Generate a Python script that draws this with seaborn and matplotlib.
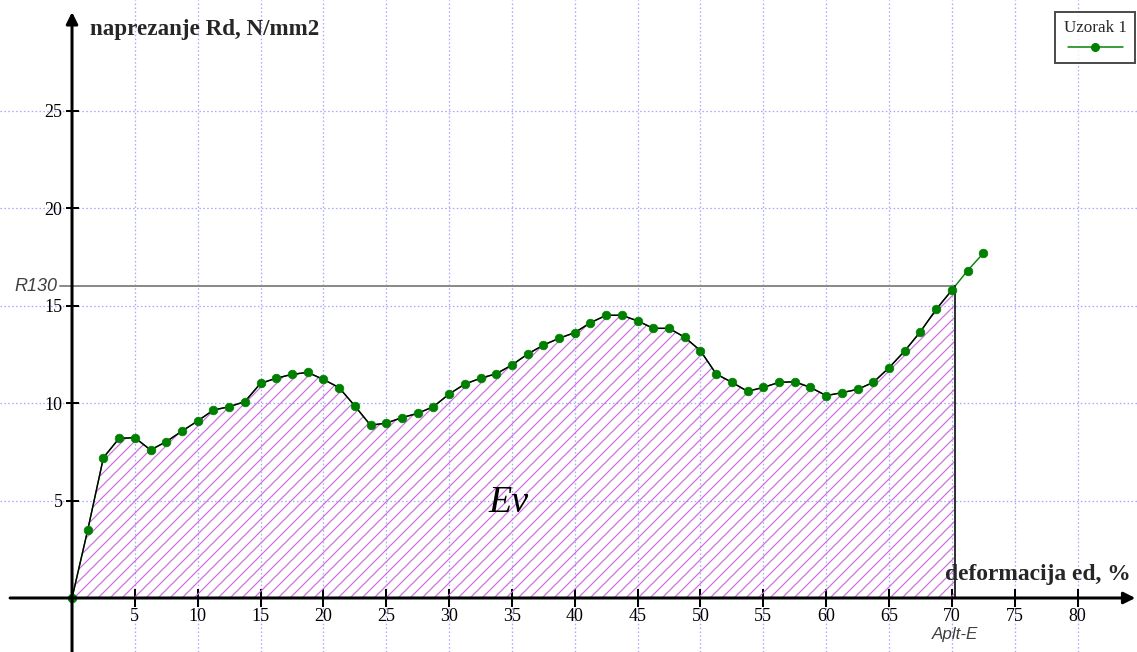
import numpy as np
import matplotlib
matplotlib.use("Agg")
import matplotlib.pyplot as plt
import seaborn as sns
from matplotlib.lines import Line2D

# deformacija ed, % (korak 1.25 %)
strain = [0.0, 1.25, 2.5, 3.75, 5.0, 6.25, 7.5, 8.75, 10.0, 11.25,
          12.5, 13.75, 15.0, 16.25, 17.5, 18.75, 20.0, 21.25, 22.5, 23.75,
          25.0, 26.25, 27.5, 28.75, 30.0, 31.25, 32.5, 33.75, 35.0, 36.25,
          37.5, 38.75, 40.0, 41.25, 42.5, 43.75, 45.0, 46.25, 47.5, 48.75,
          50.0, 51.25, 52.5, 53.75, 55.0, 56.25, 57.5, 58.75, 60.0, 61.25,
          62.5, 63.75, 65.0, 66.25, 67.5, 68.75, 70.0, 71.25, 72.5]

# naprezanje Rd, N/mm2 (očitano sa slike)
stress = [0.0, 3.49, 7.20, 8.19, 8.22, 7.59, 8.02, 8.56, 9.08, 9.64,
          9.81, 10.07, 11.01, 11.27, 11.47, 11.57, 11.21, 10.79, 9.85, 8.86,
          8.97, 9.25, 9.47, 9.81, 10.46, 10.97, 11.27, 11.50, 11.95, 12.51,
          12.97, 13.32, 13.61, 14.12, 14.50, 14.50, 14.21, 13.83, 13.83, 13.37,
          12.68, 11.49, 11.06, 10.60, 10.80, 11.06, 11.09, 10.80, 10.38, 10.53,
          10.70, 11.06, 11.81, 12.67, 13.66, 14.80, 15.79, 16.79, 17.68]

R130 = 16.0
x_ticks = [5, 10, 15, 20, 25, 30, 35, 40, 45, 50, 55, 60, 65, 70, 75, 80]
y_ticks = [5, 10, 15, 20, 25]
series_name = "Uzorak 1"

GREEN = "#008000"
HATCH = "#cc6ee0"
GRID = "#a8a8ff"

sns.set_style("white")
plt.rcParams["font.family"] = ["Liberation Serif", "DejaVu Serif"]
plt.rcParams["hatch.linewidth"] = 1.2

strain = np.array(strain)
stress = np.array(stress)

# tačka gdje kriva dostiže R130
i = int(np.argmax(stress >= R130))
x_cross = np.interp(R130, stress[i - 1:i + 1], strain[i - 1:i + 1])
xs = np.append(strain[:i], x_cross)
ys = np.append(stress[:i], R130)

fig = plt.figure(figsize=(1137 / 72, 652 / 72), dpi=72)
ax = fig.add_axes([0, 0, 1, 1])
ax.set_xlim(-5.73, 84.73)
ax.set_ylim(-2.77, 30.67)

# mreža
ax.set_xticks(x_ticks)
ax.set_yticks(y_ticks)
ax.grid(True, color=GRID, linestyle=(0, (1.2, 1.8)), linewidth=1.3)
for s in ax.spines.values():
    s.set_visible(False)
ax.spines["left"].set_position(("data", 0))
ax.spines["bottom"].set_position(("data", 0))
ax.tick_params(axis="y", direction="inout", length=13, width=2, pad=3,
               labelsize=18, colors="black", left=True)
ax.tick_params(axis="x", direction="inout", length=18, width=2, pad=1,
               labelsize=18, colors="black", bottom=True)

# površina Ev
ax.fill_between(xs, 0, ys, facecolor="none", edgecolor=HATCH, hatch="//",
                linewidth=0, zorder=2)
ax.plot([-0.95, x_cross], [R130, R130], color="#8a8a8a", lw=2, zorder=3)
ax.plot([x_cross, x_cross], [0, R130], color="#333333", lw=2, zorder=3)

# podaci
sns.lineplot(x=strain, y=stress, color=GREEN, lw=1.4, ax=ax, zorder=3,
             sort=False, estimator=None)
sns.lineplot(x=xs, y=ys, color="black", lw=1.4, ax=ax, zorder=4,
             sort=False, estimator=None)
sns.scatterplot(x=strain, y=stress, color=GREEN, edgecolor=GREEN, s=75,
                ax=ax, zorder=5, clip_on=False)

# ose sa strelicama
ax.annotate("", xy=(84.6, 0), xytext=(-4.93, 0),
            arrowprops=dict(arrowstyle="-|>", lw=3, color="black",
                            mutation_scale=24, shrinkA=0, shrinkB=0), zorder=6)
ax.annotate("", xy=(0, 30.05), xytext=(0, -2.9),
            arrowprops=dict(arrowstyle="-|>", lw=3, color="black",
                            mutation_scale=24, shrinkA=0, shrinkB=0), zorder=6)

# tekstovi
fig.text(90 / 1137, 1 - 35 / 652, "naprezanje Rd, N/mm2", fontsize=23,
         fontweight="bold", va="baseline", ha="left")
fig.text(945 / 1137, 1 - 580 / 652, "deformacija ed, %", fontsize=23.5,
         fontweight="bold", va="baseline", ha="left")
ax.text(-1.2, R130, "R130", fontsize=18, style="italic", color="#404040",
        family=["Liberation Sans", "DejaVu Sans"], ha="right", va="center")
ax.text(x_cross, -1.85, "Aplt-E", fontsize=17, style="italic", color="#404040",
        family=["Liberation Sans", "DejaVu Sans"], ha="center", va="center")
ax.text(34.7, 4.9, "Ev", fontsize=38, style="italic", color="black",
        ha="center", va="center", zorder=6)

# legenda
handle = Line2D([], [], color=GREEN, lw=1.5, marker="o", markersize=8)
leg = ax.legend(handles=[handle], labels=[""], title=series_name,
                loc="upper right", bbox_to_anchor=(1135 / 1137, 1 - 12 / 652),
                bbox_transform=fig.transFigure, borderaxespad=0,
                frameon=True, fancybox=False, handlelength=4.6,
                handletextpad=0, handleheight=1.0, borderpad=0.7,
                fontsize=12, title_fontsize=17)
leg.get_frame().set_edgecolor("#222222")
leg.get_frame().set_linewidth(2)
leg.set_zorder(10)

fig.savefig("out.png", dpi=72)
